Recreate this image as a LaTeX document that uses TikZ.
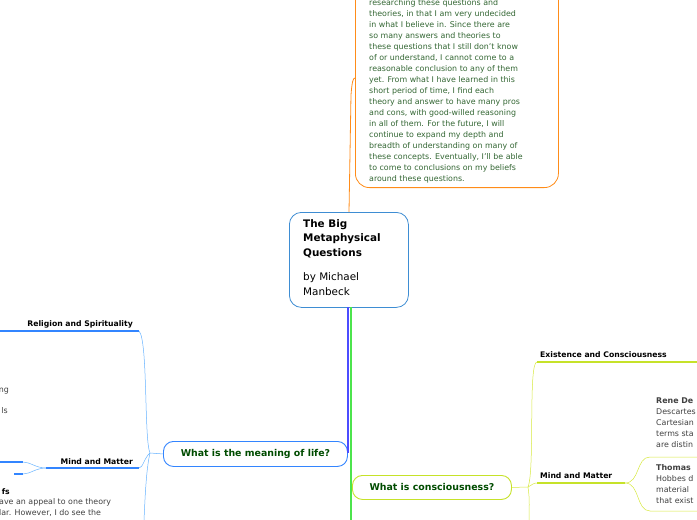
\documentclass[tikz,border=0pt]{standalone}
\usepackage{fontspec}
\setmainfont{DejaVu Sans}
\begin{document}
\begin{tikzpicture}[x=1pt,y=-1pt,
  body/.style={inner sep=0pt,align=left,font=\fontsize{7.9}{11}\selectfont,text=black!75},
  bodyg/.style={body,text=green!25!black!80},
  sub/.style={inner sep=0pt,font=\fontsize{7.7}{9}\selectfont\bfseries},
  topic/.style={draw,rounded corners=10pt,line width=0.9pt,inner sep=0pt,fill=white,text=green!30!black,font=\fontsize{9.4}{10}\selectfont\bfseries},
  bl/.style={draw=blue!50!cyan!60!white,line width=0.5pt},
  blt/.style={draw=blue!60!cyan!80!white,line width=1.2pt},
  yl/.style={draw=yellow!80!green!80!white,line width=0.5pt},
  ylt/.style={draw=yellow!75!green!90!white,line width=1.2pt}]
\useasboundingbox (0,0) rectangle (697,520);
\clip (0,0) rectangle (697,520);
% orange note
\node[draw=orange!90,line width=0.8pt,rounded corners=14pt,minimum width=203pt,minimum height=210pt,anchor=south west] (note) at (355,188) {};
\node[bodyg,anchor=north west] (notetxt) at (369,-1) {researching these questions and\\theories, in that I am very undecided\\in what I believe in. Since there are\\so many answers and theories to\\these questions that I still don't know\\of or understand, I cannot come to a\\reasonable conclusion to any of them\\yet. From what I have learned in this\\short period of time, I find each\\theory and answer to have many pros\\and cons, with good-willed reasoning\\in all of them. For the future, I will\\continue to expand my depth and\\breadth of understanding on many of\\these concepts. Eventually, I'll be able\\to come to conclusions on my beliefs\\around these questions.};
% central
\node[draw=cyan!60!blue!80,line width=0.8pt,rounded corners=12pt,minimum width=119pt,minimum height=95pt,anchor=north west,fill=white] (c) at (289,212) {};
\node[inner sep=0pt,anchor=north west,align=left,font=\fontsize{10.4}{14.5}\selectfont] (ctxt) at (303,219) {\textbf{The Big}\\\textbf{Metaphysical}\\\textbf{Questions}\\[10pt]by Michael\\Manbeck};
\coordinate (ctop) at (349,212);
\draw[orange!90,line width=0.8pt] (ctop) -- (351,95) .. controls (352,82) and (353,78) .. (note.west |- 0,78);
% topics
\node[topic,draw=blue!60!cyan!80!white,minimum width=184pt,minimum height=25pt,anchor=north west] (m) at (163,441) {What is the meaning of life?};
\node[topic,draw=yellow!75!green!90!white,minimum width=159pt,minimum height=24pt,anchor=north west] (k) at (352,475) {What is consciousness?};
\draw[blue!70!white,line width=1.3pt] (348,307) -- (348,453);
\draw[green!85!black!70!white,line width=1.3pt] (351,307) -- (351,520);
% meaning branches
\coordinate (mj) at (150,453);
\draw[bl] (m.west) -- (mj);
\draw[bl] (mj) .. controls (144,440) and (148,340) .. (139,331);
\draw[bl] (mj) .. controls (144,458) and (143,468) .. (139,468);
\draw[bl] (mj) .. controls (146,470) and (145,500) .. (144,520);
\draw[blt] (0,331) -- (139,331);
\draw[blt] (46,468) -- (139,468);
\node[sub,anchor=south east] (rel) at (133,328) {Religion and Spirituality};
\node[sub,anchor=south east] (mm1) at (133,465) {Mind and Matter};
\draw[bl] (46,468) .. controls (36,468) and (30,462) .. (23,462);
\draw[bl] (46,468) .. controls (36,468) and (30,474) .. (23,474);
\draw[blt] (0,462) -- (23,462);
\draw[blt] (14,474) -- (23,474);
\node[body,anchor=base east] (ng) at (9,392) {ng};
\node[body,anchor=base east] (ls) at (8,413) {ls};
\node[sub,anchor=base east] (fs) at (10,494) {fs};
\node[body,anchor=north west] (lft) at (-1,498) {ave an appeal to one theory\\lar. However, I do see the};
% consciousness branches
\coordinate (kj) at (528,487);
\draw[yl] (k.east) -- (kj);
\draw[yl] (kj) .. controls (535,470) and (528,362) .. (537,362);
\draw[yl] (kj) .. controls (532,485) and (533,483) .. (537,483);
\draw[yl] (kj) .. controls (530,500) and (529,510) .. (529,520);
\draw[ylt] (537,362) -- (697,362);
\draw[ylt] (537,483) -- (625,483);
\node[sub,anchor=south west] (ex) at (540,358) {Existence and Consciousness};
\node[sub,anchor=south west] (mm2) at (540,479) {Mind and Matter};
\draw[yl] (625,483) .. controls (640,483) and (636,457) .. (650,457) -- (697,457);
\draw[yl] (625,483) .. controls (640,483) and (636,511) .. (650,511) -- (697,511);
\node[body,anchor=north west] (rene) at (656,398) {\textbf{Rene De}\\Descartes\\Cartesian\\terms sta\\are distin};
\node[body,anchor=north west] (hob) at (656,464) {\textbf{Thomas}\\Hobbes d\\material\\that exist};
\end{tikzpicture}
\end{document}
